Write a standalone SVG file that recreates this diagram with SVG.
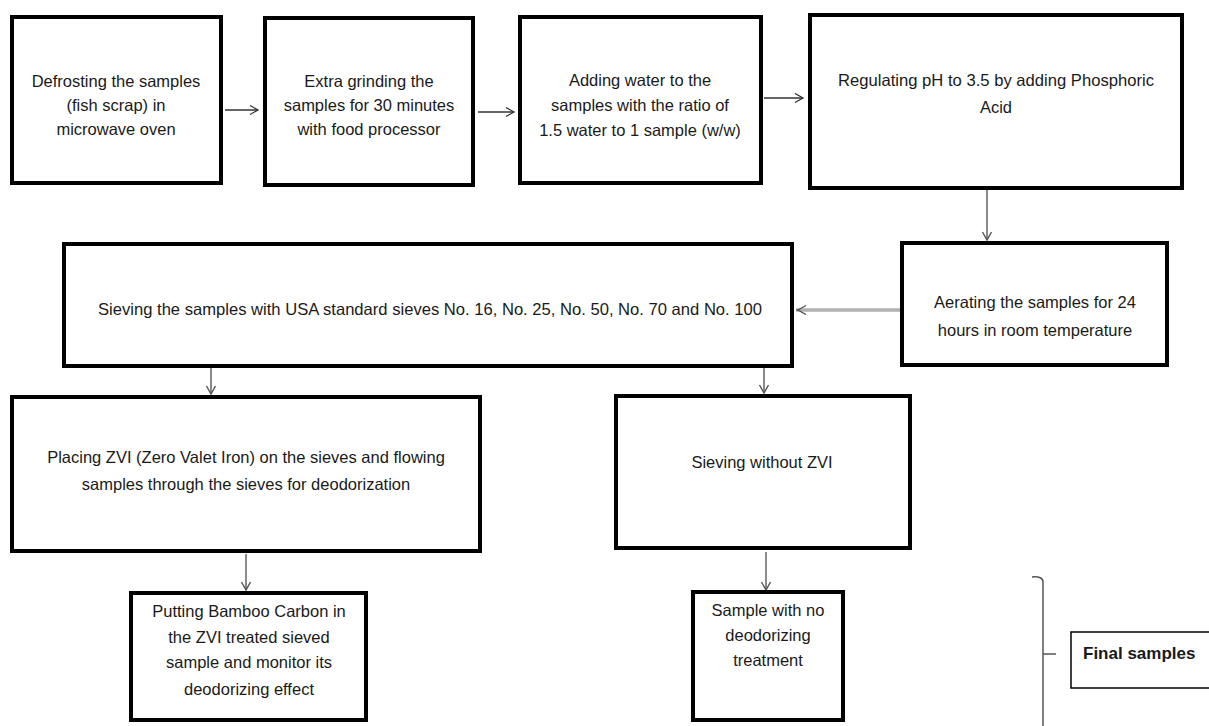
<svg xmlns="http://www.w3.org/2000/svg" width="1209" height="726" viewBox="0 0 1209 726">
<style>
.box{fill:#fff;stroke:#000;stroke-width:4}
.thin{fill:#fff;stroke:#000;stroke-width:1.5}
text{font-family:"Liberation Sans",Arial,sans-serif;font-size:16.5px;fill:#1a1a1a;text-anchor:middle}
.bold{font-weight:bold;text-anchor:start;font-size:17px}
.dk{stroke:#333;stroke-width:1.3;fill:none}
.gr{stroke:#8a8a8a;stroke-width:2;fill:none}
</style>
<defs>
<marker id="ah" markerUnits="userSpaceOnUse" markerWidth="12" markerHeight="12" refX="9" refY="5" orient="auto">
<path d="M1,0.5 L9,5 L1,9.5" fill="none" stroke="#333" stroke-width="1.3"/>
</marker>
<marker id="ahg" markerUnits="userSpaceOnUse" markerWidth="12" markerHeight="12" refX="9" refY="5" orient="auto">
<path d="M1,0.5 L9,5 L1,9.5" fill="none" stroke="#555" stroke-width="1.4"/>
</marker>
</defs>
<rect width="1209" height="726" fill="#fff"/>
<g id="connectors">
<line class="dk" x1="225" y1="110" x2="258" y2="110" marker-end="url(#ah)"/>
<line class="dk" x1="478" y1="112" x2="514" y2="112" marker-end="url(#ah)"/>
<line class="dk" x1="764" y1="98" x2="803" y2="98" marker-end="url(#ah)"/>
<line class="gr" x1="987" y1="190" x2="987" y2="240" marker-end="url(#ahg)"/>
<line stroke="#8a8a8a" stroke-width="3" x1="900" y1="310" x2="796" y2="310"/>
<line stroke="#d8d8d8" stroke-width="1" x1="900" y1="310" x2="798" y2="310" marker-end="url(#ahg)"/>
<line class="gr" x1="211" y1="368" x2="211" y2="394" marker-end="url(#ahg)"/>
<line class="gr" x1="764" y1="368" x2="764" y2="393" marker-end="url(#ahg)"/>
<line class="gr" x1="246" y1="554" x2="246" y2="590" marker-end="url(#ahg)"/>
<line class="gr" x1="766" y1="552" x2="766" y2="590" marker-end="url(#ahg)"/>
<path d="M1032,577 Q1043,576 1043,582 L1043,726" fill="none" stroke="#555" stroke-width="1.5"/>
<line x1="1043" y1="654" x2="1056" y2="654" stroke="#555" stroke-width="1.5"/>
</g>
<g id="n1"><rect class="box" x="12" y="17" width="209" height="166"/>
<text x="116" y="87">Defrosting the samples</text><text x="116" y="111">(fish scrap) in</text><text x="116" y="135">microwave oven</text></g>
<g id="n2"><rect class="box" x="265" y="18" width="208" height="167"/>
<text x="369" y="87">Extra grinding the</text><text x="369" y="111">samples for 30 minutes</text><text x="369" y="135">with food processor</text></g>
<g id="n3"><rect class="box" x="520" y="17" width="241" height="166"/>
<text x="640" y="86">Adding water to the</text><text x="640" y="111">samples with the ratio of</text><text x="640" y="136">1.5 water to 1 sample (w/w)</text></g>
<g id="n4"><rect class="box" x="810" y="15" width="372" height="173"/>
<text x="996" y="86" textLength="316" lengthAdjust="spacingAndGlyphs">Regulating pH to 3.5 by adding Phosphoric</text><text x="996" y="113">Acid</text></g>
<g id="n5"><rect class="box" x="902" y="243" width="265" height="122"/>
<text x="1035" y="308">Aerating the samples for 24</text><text x="1035" y="336">hours in room temperature</text></g>
<g id="n6"><rect class="box" x="64" y="244" width="728" height="122"/>
<text x="430" y="315" textLength="664" lengthAdjust="spacingAndGlyphs">Sieving the samples with USA standard sieves No. 16, No. 25, No. 50, No. 70 and No. 100</text></g>
<g id="n7"><rect class="box" x="12" y="397" width="468" height="154"/>
<text x="246" y="463">Placing ZVI (Zero Valet Iron) on the sieves and flowing</text><text x="246" y="490">samples through the sieves for deodorization</text></g>
<g id="n8"><rect class="box" x="616" y="396" width="294" height="152"/>
<text x="762" y="468">Sieving without ZVI</text></g>
<g id="n9"><rect class="box" x="131" y="593" width="235" height="127"/>
<text x="249" y="617">Putting Bamboo Carbon in</text><text x="249" y="643">the ZVI treated sieved</text><text x="249" y="668">sample and monitor its</text><text x="249" y="695">deodorizing effect</text></g>
<g id="n10"><rect class="box" x="693" y="592" width="150" height="128"/>
<text x="768" y="616">Sample with no</text><text x="768" y="641">deodorizing</text><text x="768" y="666">treatment</text></g>
<g id="n11"><rect class="thin" x="1071" y="632" width="150" height="56"/>
<text class="bold" x="1083" y="659">Final samples</text></g>
</svg>
